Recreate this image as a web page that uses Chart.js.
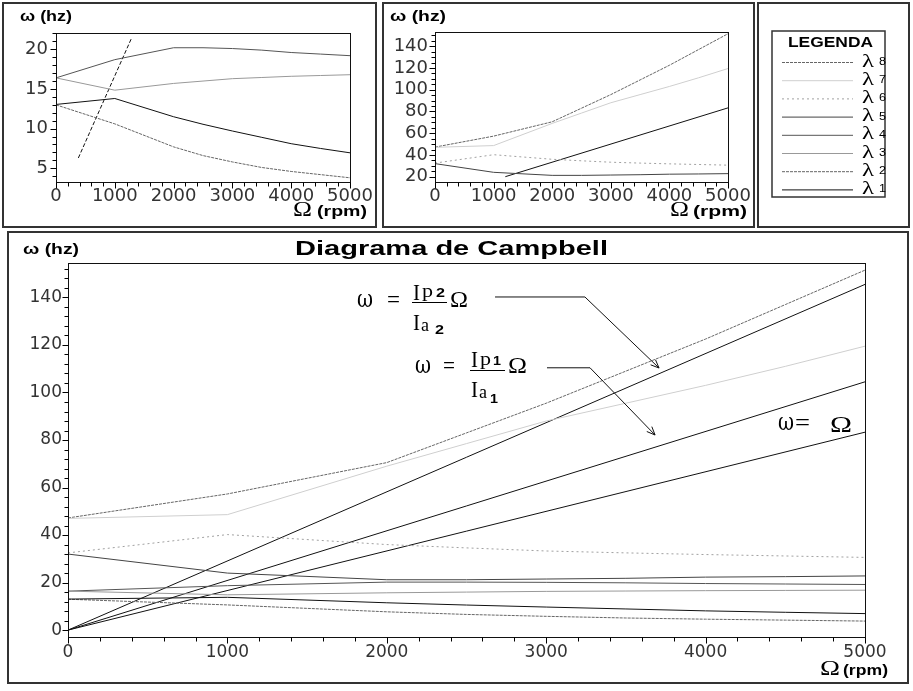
<!DOCTYPE html>
<html>
<head>
<meta charset="utf-8">
<title>Diagrama de Campbell</title>
<script src="https://cdn.jsdelivr.net/npm/chart.js@4.4.1/dist/chart.umd.min.js"></script>
<style>
  html, body { margin: 0; padding: 0; background: #fff; }
  body { position: relative; width: 913px; height: 691px; overflow: hidden; }
  canvas { position: absolute; }
  #overlay { position: absolute; left: 0; top: 0; pointer-events: none; }
</style>
</head>
<body>
<canvas id="zoomLow" width="373" height="225" style="left:3px;top:3px"></canvas>
<canvas id="zoomHigh" width="371" height="225" style="left:383px;top:3px"></canvas>
<canvas id="campbell" width="902" height="452" style="left:7px;top:232px"></canvas>
<svg id="overlay" width="913" height="691" xmlns="http://www.w3.org/2000/svg"></svg>
<script>
// rotor speed (rpm) where the modes were read
const rpm = [0, 1000, 2000, 2500, 3000, 3500, 4000, 4500, 5000];

// natural frequencies (Hz) of each mode
const lambda1 = [13.05, 13.8, 11.5, 10.55, 9.7, 8.9, 8.1, 7.5, 6.95];
const lambda2 = [13.0, 10.6, 7.7, 6.6, 5.8, 5.1, 4.6, 4.2, 3.8];
const lambda3 = [16.4, 14.85, 15.7, 16.0, 16.3, 16.45, 16.6, 16.7, 16.8];
const lambda4 = [16.4, 18.7, 20.2, 20.2, 20.1, 19.9, 19.6, 19.4, 19.2];
const lambda5 = [32.0, 24.0, 21.2, 21.2, 21.5, 21.8, 22.3, 22.5, 22.8];
const lambda6 = [32.5, 40.2, 36.0, 34.6, 33.3, 32.5, 31.8, 31.2, 30.6];
const lambda7 = [47.0, 48.6, 69.0, 78.5, 88.0, 95.5, 103.0, 111.0, 119.5];
const lambda8 = [47.2, 57.3, 70.5, 83.0, 95.5, 109.0, 122.5, 137.0, 151.5];

// excitation lines through the origin
const lineRpm = [0, 5000];
const omegaHz = [0, 83.3];   // w = W
const ip1Hz = [0, 104.5];    // w = Ip1/Ia1 W
const ip2Hz = [0, 145.5];    // w = Ip2/Ia2 W

// the pieces of w = W that show in the two small panels
const omegaLowRpm = [380, 1290];
const omegaLowHz = [6.3, 21.5];
const omegaHighRpm = [1200, 5000];
const omegaHighHz = [20, 83.3];

const xTickLabels = [0, 1000, 2000, 3000, 4000, 5000];
const yTicksLow = [5, 10, 15, 20];
const yTicksHigh = [20, 40, 60, 80, 100, 120, 140];
const yTicksMain = [0, 20, 40, 60, 80, 100, 120, 140];

// arrows from the formulas to their lines
const arrowPaths = [
  { rpm: [2679, 3243, 3708], hz: [140.2, 140.2, 110.3] },
  { rpm: [3005, 3275, 3683], hz: [110.4, 110.4, 82.1] }
];

const modeStyle = [
  { name: '1', data: lambda1, color: '#111', dash: [] },
  { name: '2', data: lambda2, color: '#666', dash: [3, 1] },
  { name: '3', data: lambda3, color: '#999', dash: [] },
  { name: '4', data: lambda4, color: '#555', dash: [] },
  { name: '5', data: lambda5, color: '#444', dash: [] },
  { name: '6', data: lambda6, color: '#a0a0a0', dash: [2, 3] },
  { name: '7', data: lambda7, color: '#cfcfcf', dash: [] },
  { name: '8', data: lambda8, color: '#666', dash: [3, 1] }
];

function series(xs, ys, color, dash) {
  return {
    data: xs.map((x, i) => ({ x: x, y: ys[i] })),
    borderColor: color, borderDash: dash, borderWidth: 1,
    pointRadius: 0, fill: false, tension: 0
  };
}
function mode(i) {
  const m = modeStyle[i];
  return series(rpm, m.data, m.color, m.dash);
}

function steps(from, to, step) {
  const out = [];
  for (let v = Math.ceil(from / step - 1e-9) * step; v <= to + 1e-9; v += step) out.push(Math.round(v * 100) / 100);
  return out;
}

const framePlugin = {
  id: 'frame',
  afterDraw(chart) {
    const a = chart.chartArea, ctx = chart.ctx;
    ctx.save();
    ctx.strokeStyle = '#111';
    ctx.lineWidth = 1;
    ctx.strokeRect(Math.round(a.left) + 0.5, Math.round(a.top) + 0.5,
      Math.round(a.right - a.left), Math.round(a.bottom - a.top));
    ctx.restore();
  }
};

// outward tick marks, longer on labelled values
function tickPlugin(c) {
  return {
    id: 'tickmarks',
    afterDraw(chart) {
      const ctx = chart.ctx, a = chart.chartArea, x = chart.scales.x, y = chart.scales.y;
      const left = Math.round(a.left) + 0.5, bottom = Math.round(a.bottom) + 0.5;
      ctx.save();
      ctx.strokeStyle = '#000';
      ctx.lineWidth = 1;
      ctx.beginPath();
      steps(0, 5000, 200).forEach(v => {
        const px = Math.round(x.getPixelForValue(v)) + 0.5;
        ctx.moveTo(px, bottom);
        ctx.lineTo(px, bottom + (xTickLabels.includes(v) ? 6 : 4));
      });
      steps(c.ymin, c.ymax, c.minor).forEach(v => {
        const py = Math.round(y.getPixelForValue(v)) + 0.5;
        ctx.moveTo(left, py);
        ctx.lineTo(left - (c.labels.includes(v) ? 6 : 4), py);
      });
      ctx.stroke();
      ctx.restore();
    }
  };
}

const arrowPlugin = {
  id: 'arrows',
  afterDraw(chart) {
    const ctx = chart.ctx, x = chart.scales.x, y = chart.scales.y;
    ctx.save();
    ctx.strokeStyle = '#111';
    ctx.lineWidth = 1;
    arrowPaths.forEach(a => {
      const pts = a.rpm.map((r, i) => [x.getPixelForValue(r), y.getPixelForValue(a.hz[i])]);
      ctx.beginPath();
      pts.forEach((p, i) => i ? ctx.lineTo(p[0], p[1]) : ctx.moveTo(p[0], p[1]));
      const t = pts[pts.length - 1], p = pts[pts.length - 2];
      const ang = Math.atan2(t[1] - p[1], t[0] - p[0]);
      [-0.4, 0.4].forEach(d => {
        ctx.moveTo(t[0], t[1]);
        ctx.lineTo(t[0] - 9 * Math.cos(ang + d), t[1] - 9 * Math.sin(ang + d));
      });
      ctx.stroke();
    });
    ctx.restore();
  }
};

function makeChart(id, datasets, c, extra) {
  const tickFont = { family: 'DejaVu Sans', size: c.fs };
  return new Chart(document.getElementById(id), {
    type: 'line',
    data: { datasets: datasets },
    options: {
      responsive: false,
      animation: false,
      layout: { padding: c.pad },
      plugins: { legend: { display: false }, tooltip: { enabled: false } },
      scales: {
        x: {
          type: 'linear', min: 0, max: 5000,
          afterBuildTicks: s => { s.ticks = xTickLabels.map(v => ({ value: v })); },
          afterFit: s => { s.height = 30; },
          grid: { drawOnChartArea: false, tickLength: 4, tickColor: 'rgba(0,0,0,0)' },
          border: { color: '#000' },
          ticks: { autoSkip: false, maxRotation: 0, padding: c.xpad, color: '#333', font: tickFont,
                   callback: v => String(v) }
        },
        y: {
          type: 'linear', min: c.ymin, max: c.ymax,
          afterBuildTicks: s => { s.ticks = c.labels.map(v => ({ value: v })); },
          afterFit: s => { s.width = 40; },
          grid: { drawOnChartArea: false, tickLength: 4, tickColor: 'rgba(0,0,0,0)' },
          border: { color: '#000' },
          ticks: { autoSkip: false, padding: c.ypad, color: '#333', font: tickFont,
                   callback: v => String(v) }
        }
      }
    },
    plugins: [framePlugin, tickPlugin(c)].concat(extra || [])
  });
}

// upper left: low modes
makeChart('zoomLow', [
  mode(0), mode(1), mode(2), mode(3),
  series(omegaLowRpm, omegaLowHz, '#111', [4, 2])
], { pad: { left: 13, top: 30, right: 26, bottom: 16 }, ymin: 3.27, ymax: 22.06, minor: 1, labels: yTicksLow, fs: 18, xpad: 0, ypad: 4 });

// upper right: high modes
makeChart('zoomHigh', [
  mode(4), mode(5), mode(6), mode(7),
  series(omegaHighRpm, omegaHighHz, '#111', [])
], { pad: { left: 12, top: 29, right: 26, bottom: 16 }, ymin: 15.1, ymax: 153.1, minor: 5, labels: yTicksHigh, fs: 18, xpad: 0, ypad: 3 });

// main Campbell diagram
makeChart('campbell', [
  mode(0), mode(1), mode(2), mode(3), mode(4), mode(5), mode(6), mode(7),
  series(lineRpm, omegaHz, '#111', []),
  series(lineRpm, ip1Hz, '#111', []),
  series(lineRpm, ip2Hz, '#111', [])
], { pad: { left: 21, top: 31, right: 44, bottom: 17 }, ymin: -2.9, ymax: 154.5, minor: 4, labels: yTicksMain, fs: 17, xpad: 1, ypad: 2 }, [arrowPlugin]);

// ---- frames, labels, legend and formulas ----
const svgNS = 'http://www.w3.org/2000/svg';
const svg = document.getElementById('overlay');
function el(tag, attrs, text) {
  const e = document.createElementNS(svgNS, tag);
  for (const k in attrs) e.setAttribute(k, attrs[k]);
  if (text != null) e.textContent = text;
  svg.appendChild(e);
  return e;
}
function txt(x, y, s, size, o) {
  o = o || {};
  const a = {
    x: x, y: y, 'font-size': size, fill: '#000',
    'font-family': o.serif ? (o.dv ? 'DejaVu Serif, serif' : 'Liberation Serif, Times New Roman, serif') : 'Liberation Sans, Arial, sans-serif',
    'font-weight': o.bold ? 'bold' : 'normal'
  };
  if (o.len) { a.textLength = o.len; a.lengthAdjust = 'spacingAndGlyphs'; }
  return el('text', a, s);
}
function box(x, y, w, h, sw) {
  el('rect', { x: x, y: y, width: w, height: h, fill: 'none', stroke: '#333', 'stroke-width': sw || 2 });
}
function hline(x1, x2, y) {
  el('line', { x1: x1, x2: x2, y1: y, y2: y, stroke: '#000', 'stroke-width': 1 });
}

box(3, 3, 373, 224);
box(383, 3, 371, 224);
box(758, 3, 151, 224);
box(8, 232, 900, 451);
box(772, 31, 113, 166, 1.5);

// axis captions
txt(20, 21, 'ω (hz)', 14, { bold: true, len: 52 });
txt(390, 21, 'ω (hz)', 14, { bold: true, len: 56 });
txt(23, 254, 'ω (hz)', 14, { bold: true, len: 56 });
txt(293, 216, 'Ω', 21, { serif: true, len: 19 });
txt(317, 216, '(rpm)', 15, { bold: true, len: 50 });
txt(670, 216, 'Ω', 21, { serif: true, len: 19 });
txt(693, 216, '(rpm)', 15, { bold: true, len: 54 });
txt(820, 675, 'Ω', 21, { serif: true, len: 20 });
txt(843, 675, '(rpm)', 15, { bold: true, len: 45 });

// title
txt(295, 255, 'Diagrama de Campbell', 20, { bold: true, len: 313 });

// legend
txt(788, 46.5, 'LEGENDA', 14, { bold: true, len: 85 });
modeStyle.slice().reverse().forEach((m, i) => {
  const y = 62.5 + 18.2 * i;
  const attrs = { x1: 782, x2: 853, y1: y, y2: y, stroke: m.color, 'stroke-width': 1 };
  if (m.dash.length) attrs['stroke-dasharray'] = m.dash.join(',');
  el('line', attrs);
  txt(862, y + 4, 'λ', 18, { serif: true, len: 12 });
  txt(879, y + 2.5, m.name, 10, { len: 7 });
});

// formula: w = Ip2/Ia2 W
txt(357, 307, 'ω', 24, { serif: true, dv: true, len: 16 });
txt(387, 307, '=', 24, { serif: true, len: 13 });
txt(413, 299.5, 'I', 24, { serif: true, len: 7 });
txt(422, 297, 'p', 18, { serif: true, len: 11 });
txt(436, 297, '2', 12, { bold: true, len: 9 });
txt(450, 307, 'Ω', 24, { serif: true, len: 18 });
hline(412, 447, 302.5);
txt(413, 330, 'I', 24, { serif: true, len: 7 });
txt(421, 331, 'a', 18, { serif: true, len: 8 });
txt(435, 334, '2', 12, { bold: true, len: 9 });

// formula: w = Ip1/Ia1 W
txt(415, 373, 'ω', 24, { serif: true, dv: true, len: 16 });
txt(443, 373, '=', 24, { serif: true, len: 12 });
txt(471, 367, 'I', 24, { serif: true, len: 7 });
txt(480, 364.5, 'p', 18, { serif: true, len: 11 });
txt(493, 364.5, '1', 12, { bold: true, len: 8 });
txt(508, 373, 'Ω', 24, { serif: true, len: 19 });
hline(470, 505, 370.5);
txt(471, 397, 'I', 24, { serif: true, len: 7 });
txt(479, 398, 'a', 18, { serif: true, len: 8 });
txt(490, 403, '1', 12, { bold: true, len: 8 });

// formula: w = W
txt(778, 430, 'ω', 24, { serif: true, dv: true, len: 16 });
txt(795, 430, '=', 24, { serif: true, len: 15 });
txt(830, 432, 'Ω', 24, { serif: true, len: 22 });
</script>
</body>
</html>
